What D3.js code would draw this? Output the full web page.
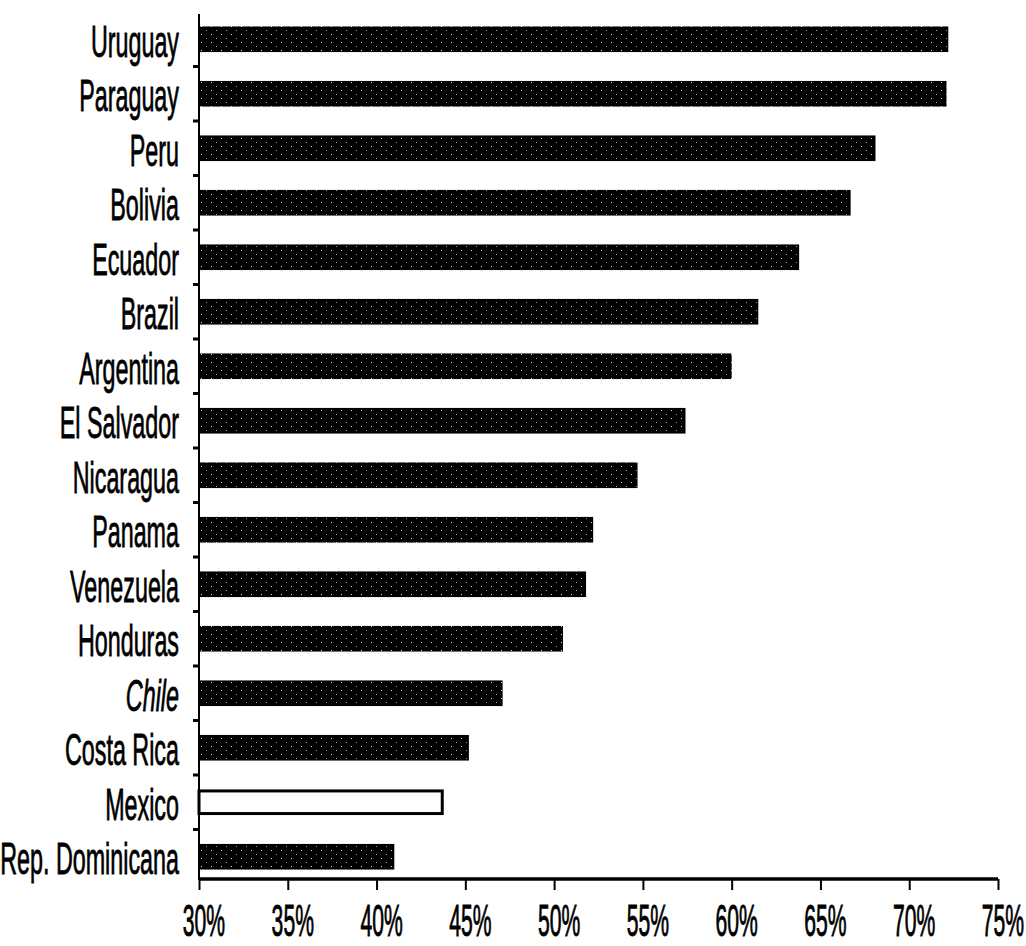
<!DOCTYPE html>
<html>
<head>
<meta charset="utf-8">
<script src="https://cdn.jsdelivr.net/npm/d3@7"></script>
<style>
  html, body { margin: 0; padding: 0; background: #fff; }
  svg { display: block; }
</style>
</head>
<body>
<svg id="chart" width="1026" height="946"></svg>
<script>
const categories = ["Uruguay", "Paraguay", "Peru", "Bolivia", "Ecuador", "Brazil", "Argentina",
  "El Salvador", "Nicaragua", "Panama", "Venezuela", "Honduras", "Chile", "Costa Rica",
  "Mexico", "Rep. Dominicana"];
const values = [72.2, 72.1, 68.1, 66.7, 63.8, 61.5, 60.0, 57.4, 54.7, 52.2, 51.8, 50.5, 47.1, 45.2, 43.7, 41.0];
const highlighted = ["Mexico"];
const italicLabels = ["Chile"];
const tickValues = [30, 35, 40, 45, 50, 55, 60, 65, 70, 75];
const tickLabels = ["30%", "35%", "40%", "45%", "50%", "55%", "60%", "65%", "70%", "75%"];

const data = categories.map((c, i) => ({ name: c, value: values[i] }));

const svg = d3.select("#chart");
const x = d3.scaleLinear().domain([30, 75]).range([199, 998]);
const y = d3.scaleBand().domain(categories).range([12, 884]).paddingInner(0.53).paddingOuter(0.265);

// pattern for dark bars
const defs = svg.append("defs");
const pat = defs.append("pattern").attr("id", "dots").attr("patternUnits", "userSpaceOnUse")
  .attr("width", 10).attr("height", 8);
pat.append("rect").attr("width", 10).attr("height", 8).attr("fill", "#000");
pat.append("rect").attr("x", 1).attr("y", 2).attr("width", 1).attr("height", 1).attr("fill", "#ddd");
pat.append("rect").attr("x", 6).attr("y", 6).attr("width", 1).attr("height", 1).attr("fill", "#999");

// bars
svg.append("g").selectAll("rect").data(data).join("rect")
  .attr("x", x(30))
  .attr("y", d => highlighted.includes(d.name) ? y(d.name) + 1.5 : y(d.name))
  .attr("width", d => x(d.value) - x(30))
  .attr("height", d => highlighted.includes(d.name) ? y.bandwidth() - 3 : y.bandwidth())
  .attr("fill", d => highlighted.includes(d.name) ? "#fff" : "url(#dots)")
  .attr("stroke", d => highlighted.includes(d.name) ? "#000" : "none")
  .attr("stroke-width", 3);

// y axis line
svg.append("line").attr("x1", 199).attr("x2", 199).attr("y1", 14).attr("y2", 880)
  .attr("stroke", "#000").attr("stroke-width", 2);

// y ticks between categories
const boundaries = categories.slice(1).map(c => y(c) - y.step() * y.paddingInner() / 2);
svg.append("g").selectAll("line").data(boundaries).join("line")
  .attr("x1", 193).attr("x2", 199).attr("y1", d => d).attr("y2", d => d)
  .attr("stroke", "#000").attr("stroke-width", 3);

// category labels
svg.append("g").selectAll("g").data(data).join("g")
  .attr("transform", d => `translate(179,${y(d.name) + y.bandwidth() / 2 + 17.5}) scale(0.53,1)`)
  .append("text")
  .attr("text-anchor", "end")
  .attr("font-family", "Liberation Sans, Arial, sans-serif")
  .attr("font-size", 44)
  .attr("font-style", d => italicLabels.includes(d.name) ? "italic" : "normal")
  .attr("stroke", "#000").attr("stroke-width", 0.8)
  .attr("fill", "#000")
  .text(d => d.name);

// x axis
const xAxis = svg.append("g").attr("transform", "translate(0,879)")
  .call(d3.axisBottom(x).tickValues(tickValues).tickSize(11).tickFormat(""));
xAxis.select(".domain").attr("stroke", "#000").attr("stroke-width", 3.5).attr("d", `M${x(30)},0H${x(75)}`);
xAxis.selectAll(".tick line").attr("stroke", "#000").attr("stroke-width", 2);

svg.append("g").selectAll("g").data(tickValues).join("g")
  .attr("transform", (d) => `translate(${x(d) + 5},936) scale(0.47,1)`)
  .append("text")
  .attr("text-anchor", "middle")
  .attr("font-family", "Liberation Sans, Arial, sans-serif")
  .attr("font-size", 45)
  .attr("stroke", "#000").attr("stroke-width", 0.9)
  .attr("fill", "#000")
  .text((d, i) => tickLabels[i]);
</script>
</body>
</html>
